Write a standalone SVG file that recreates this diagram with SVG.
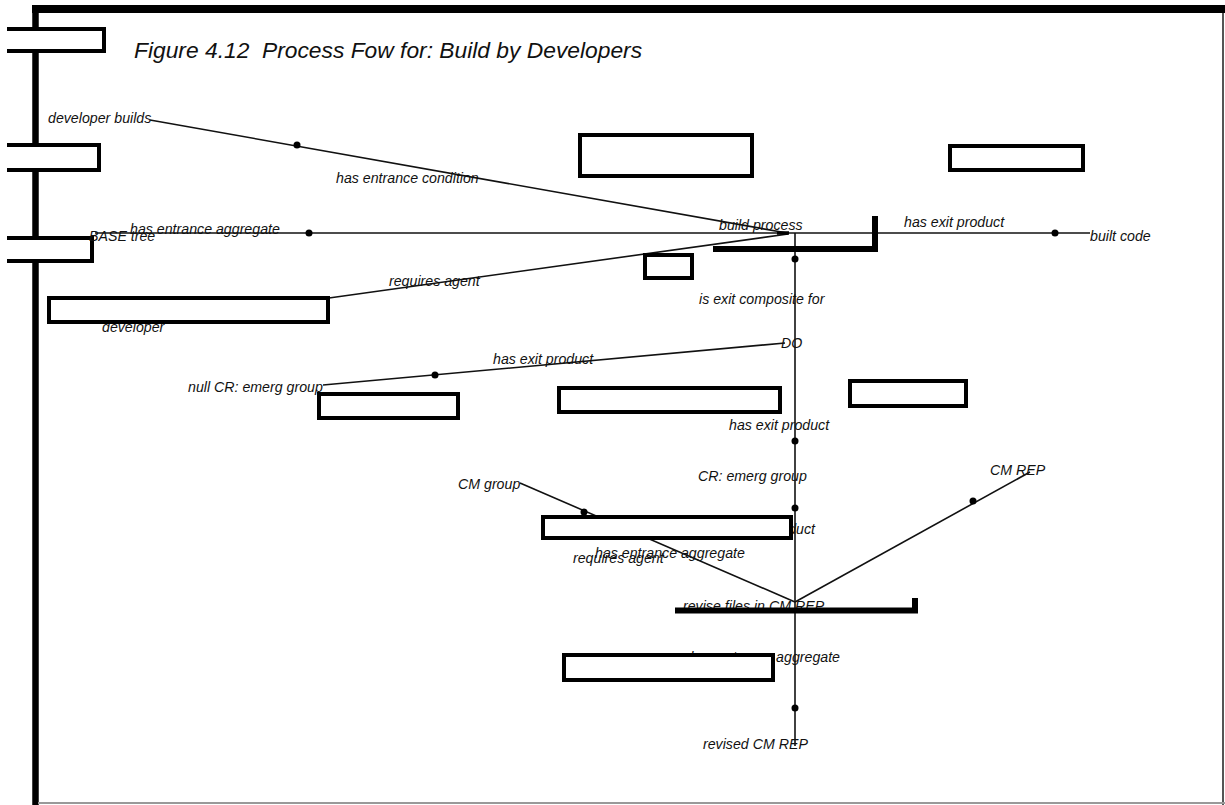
<svg xmlns="http://www.w3.org/2000/svg" width="1225" height="805" viewBox="0 0 1225 805">
<style>
.lbl{font-family:"Liberation Sans",Arial,sans-serif;font-style:italic;font-size:14.2px;fill:#111}
.title{font-family:"Liberation Sans",Arial,sans-serif;font-style:italic;font-size:22.8px;fill:#111}
.box{fill:#fff;stroke:#000;stroke-width:4}
.tab{fill:#fff;stroke:#000;stroke-width:4}
.conn{stroke:#111;stroke-width:1.6;fill:none}
.bar{stroke:#000;stroke-width:6;fill:none}
.dot{fill:#000}
</style>
<rect x="0" y="0" width="1225" height="805" fill="#fff"/>
<g id="frame">
<line x1="32" y1="9" x2="1225" y2="9" stroke="#000" stroke-width="8"/>
<line x1="35.5" y1="5" x2="35.5" y2="805" stroke="#000" stroke-width="6.5"/>
<line x1="1223" y1="13" x2="1223" y2="805" stroke="#555" stroke-width="2"/>
<line x1="38" y1="803" x2="1225" y2="803" stroke="#999" stroke-width="2"/>
</g>
<g id="tabs">
<path class="tab" d="M7,29 H104 V51 H7"/>
<path class="tab" d="M7,145 H99 V170 H7"/>
<path class="tab" d="M7,238 H92 V261 H7"/>
</g>
<text class="title" x="134" y="58" xml:space="preserve">Figure 4.12  Process Fow for: Build by Developers</text>
<g id="connectors">
<line class="conn" x1="150" y1="120" x2="787" y2="233"/>
<line class="conn" x1="95" y1="233" x2="1090" y2="233"/>
<line class="conn" x1="329" y1="298" x2="788" y2="234"/>
<line class="conn" x1="795" y1="233" x2="795" y2="746"/>
<line class="conn" x1="323" y1="385" x2="785" y2="343"/>
<line class="conn" x1="520" y1="483" x2="795" y2="602"/>
<line class="conn" x1="1030" y1="472" x2="795" y2="602"/>
<line x1="777" y1="233" x2="789" y2="233" stroke="#000" stroke-width="3.5"/>
<circle class="dot" cx="297" cy="145" r="3.5"/>
<circle class="dot" cx="309" cy="233" r="3.5"/>
<circle class="dot" cx="1055" cy="233" r="3.5"/>
<circle class="dot" cx="795" cy="259" r="3.5"/>
<circle class="dot" cx="435" cy="375" r="3.5"/>
<circle class="dot" cx="795" cy="441" r="3.5"/>
<circle class="dot" cx="795" cy="508" r="3.5"/>
<circle class="dot" cx="584" cy="512" r="3.5"/>
<circle class="dot" cx="973" cy="501" r="3.5"/>
<circle class="dot" cx="795" cy="708" r="3.5"/>
</g>
<g id="labels">
<text class="lbl" x="48" y="123">developer builds</text>
<text class="lbl" x="336" y="183">has entrance condition</text>
<text class="lbl" x="130" y="234">has entrance aggregate</text>
<text class="lbl" x="89" y="241">BASE tree</text>
<text class="lbl" x="719" y="230">build process</text>
<text class="lbl" x="904" y="227">has exit product</text>
<text class="lbl" x="1090" y="241">built code</text>
<text class="lbl" x="389" y="286">requires agent</text>
<text class="lbl" x="102" y="332">developer</text>
<text class="lbl" x="699" y="304">is exit composite for</text>
<text class="lbl" x="781" y="348">DO</text>
<text class="lbl" x="493" y="364">has exit product</text>
<text class="lbl" x="188" y="392">null CR: emerg group</text>
<text class="lbl" x="729" y="430">has exit product</text>
<text class="lbl" x="698" y="481">CR: emerg group</text>
<text class="lbl" x="458" y="489">CM group</text>
<text class="lbl" x="990" y="475">CM REP</text>
<text class="lbl" x="815" y="534" text-anchor="end">has exit product</text>
<text class="lbl" x="595" y="558">has entrance aggregate</text>
<text class="lbl" x="573" y="563">requires agent</text>
<text class="lbl" x="683" y="611">revise files in CM REP</text>
<text class="lbl" x="840" y="662" text-anchor="end">has entrance aggregate</text>
<text class="lbl" x="703" y="749">revised CM REP</text>
</g>
<g id="node-top-center"><rect class="box" x="580" y="135" width="172" height="41"/></g>
<g id="node-top-right"><rect class="box" x="950" y="146" width="133" height="24"/></g>
<g id="node-developer"><rect class="box" x="49" y="298" width="279" height="24"/></g>
<g id="node-small"><rect class="box" x="645" y="255" width="47" height="23"/></g>
<g id="node-null-cr"><rect class="box" x="319" y="394" width="139" height="24"/></g>
<g id="node-mid"><rect class="box" x="559" y="388" width="221" height="24"/></g>
<g id="node-mid-right"><rect class="box" x="850" y="381" width="116" height="25"/></g>
<g id="node-cm"><rect class="box" x="543" y="517" width="248" height="21"/></g>
<g id="node-lower"><rect class="box" x="564" y="655" width="209" height="25"/></g>
<g id="bar-build"><path class="bar" d="M713,249 H875 V216"/></g>
<g id="bar-revise"><path class="bar" d="M675,610.5 H915 V598"/></g>
</svg>
